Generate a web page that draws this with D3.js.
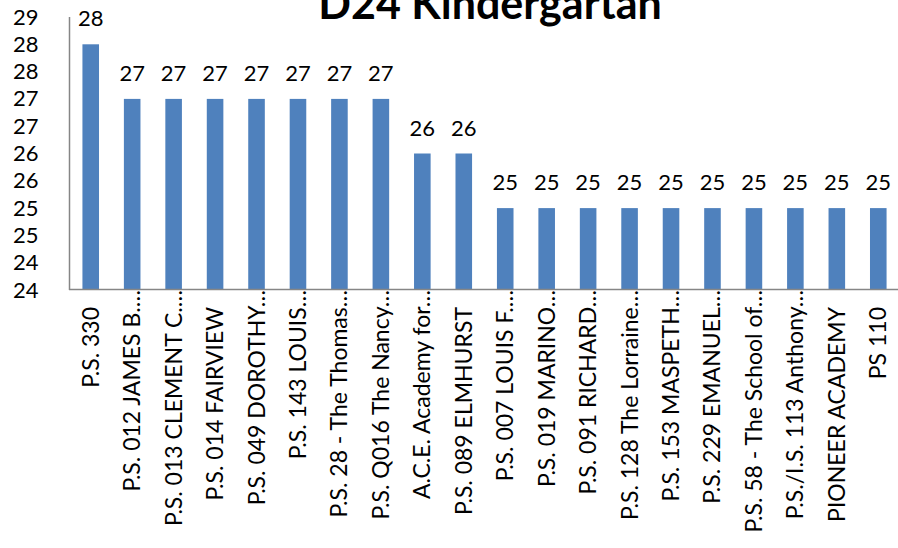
<!DOCTYPE html>
<html>
<head>
<meta charset="utf-8">
<script src="https://cdn.jsdelivr.net/npm/d3@7"></script>
<style>
  body { margin: 0; background: #fff; }
  svg { display: block; }
</style>
</head>
<body>
<script>
// chart data
var categories = ["P.S. 330", "P.S. 012 JAMES B.…", "P.S. 013 CLEMENT C.…", "P.S. 014 FAIRVIEW",
    "P.S. 049 DOROTHY…", "P.S. 143 LOUIS…", "P.S. 28 - The Thomas…", "P.S. Q016 The Nancy…",
    "A.C.E. Academy for…", "P.S. 089 ELMHURST", "P.S. 007 LOUIS F.…", "P.S. 019 MARINO…",
    "P.S. 091 RICHARD…", "P.S. 128 The Lorraine…", "P.S. 153 MASPETH…", "P.S. 229 EMANUEL…",
    "P.S. 58 - The School of…", "P.S./I.S. 113 Anthony…", "PIONEER ACADEMY", "PS 110"];
var values = [28.3, 27.3, 27.3, 27.3, 27.3, 27.3, 27.3, 27.3, 26.3, 26.3,
    25.3, 25.3, 25.3, 25.3, 25.3, 25.3, 25.3, 25.3, 25.3, 25.3];
var yTicks = [23.8, 24.3, 24.8, 25.3, 25.8, 26.3, 26.8, 27.3, 27.8, 28.3, 28.8];
var title = "D24 Kindergartan";

//Width and height
var w = 898;
var h = 548;
var plotL = 70, plotR = 899, plotT = 17, plotB = 290;
var font = "Lato, 'Open Sans', sans-serif";
var fmt = d3.format(".0f");

var xScale = d3.scaleBand()
    .domain(categories)
    .range([plotL, plotR])
    .paddingInner(0.6)
    .paddingOuter(0.3);

var yScale = d3.scaleLinear()
    .domain([yTicks[0], yTicks[yTicks.length - 1]])
    .range([plotB, plotT]);

var svg = d3.select("body")
    .append("svg")
    .attr("width", w)
    .attr("height", h);

// title (cut off at top like the original)
svg.append("text")
    .attr("x", 490)
    .attr("y", 19)
    .attr("text-anchor", "middle")
    .attr("font-family", font)
    .attr("font-weight", "bold")
    .attr("font-size", "43px")
    .attr("fill", "#000")
    .text(title);

// bars
svg.selectAll("rect.bar")
    .data(values)
    .enter()
    .append("rect")
    .attr("class", "bar")
    .attr("x", (d, i) => xScale(categories[i]))
    .attr("y", d => yScale(d))
    .attr("width", xScale.bandwidth())
    .attr("height", d => plotB - yScale(d))
    .attr("fill", "#4F81BD");

// value labels
svg.selectAll("text.val")
    .data(values)
    .enter()
    .append("text")
    .attr("class", "val")
    .attr("x", (d, i) => xScale(categories[i]) + xScale.bandwidth() / 2)
    .attr("y", d => yScale(d) - 18)
    .attr("text-anchor", "middle")
    .attr("font-family", font)
    .attr("font-size", "22px")
    .attr("fill", "#000")
    .text(d => fmt(d));

// y axis: labels only, no ticks
var yAxis = svg.append("g")
    .attr("transform", "translate(" + (plotL - 0.5) + ",0)")
    .call(d3.axisLeft(yScale).tickValues(yTicks).tickFormat(fmt).tickSize(0).tickPadding(31));
yAxis.select(".domain").remove();
yAxis.selectAll("text")
    .attr("font-family", font)
    .attr("font-size", "22px")
    .attr("fill", "#000");

svg.append("line")
    .attr("x1", plotL - 0.5).attr("x2", plotL - 0.5)
    .attr("y1", plotT).attr("y2", plotB)
    .attr("stroke", "#868686")
    .attr("stroke-width", 1.5);

// x axis line
svg.append("line")
    .attr("x1", plotL - 1).attr("x2", plotR)
    .attr("y1", plotB - 0.5).attr("y2", plotB - 0.5)
    .attr("stroke", "#868686")
    .attr("stroke-width", 1.5);

// rotated category labels
svg.selectAll("text.cat")
    .data(categories)
    .enter()
    .append("text")
    .attr("class", "cat")
    .attr("transform", function (d) {
        var cx = xScale(d) + xScale.bandwidth() / 2;
        var ty = d.endsWith("…") ? 290 : 307;
        return "translate(" + (cx + 8) + "," + ty + ") rotate(-90)";
    })
    .attr("text-anchor", "end")
    .attr("font-family", font)
    .attr("font-size", "23px")
    .attr("fill", "#000")
    .text(d => d);
</script>
</body>
</html>
